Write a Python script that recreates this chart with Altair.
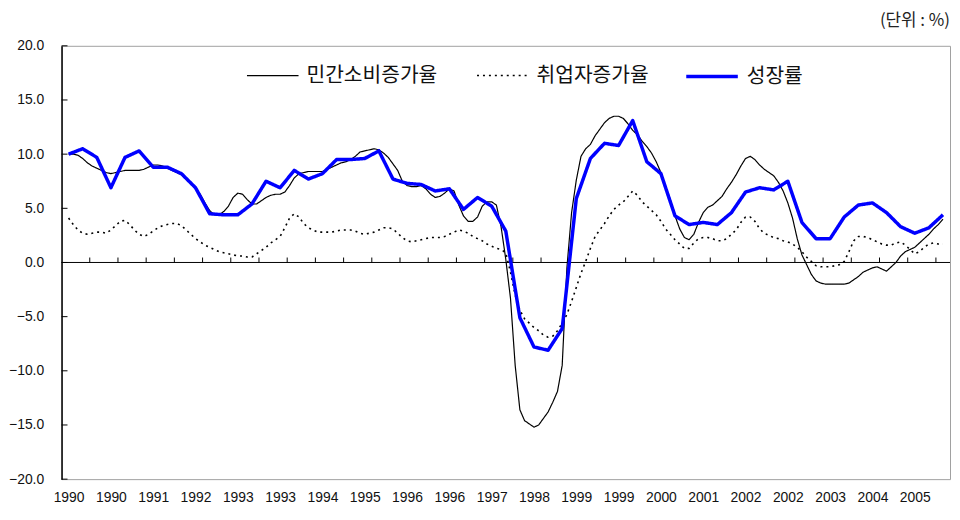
import altair as alt
import pandas as pd

# Series names (legend)
series_names = ["민간소비증가율", "취업자증가율", "성장률"]

# x-axis tick labels (every third quarter, 1990Q1 .. 2005Q1)
x_labels = ["1990", "1990", "1991", "1992", "1993", "1993", "1994", "1995", "1996", "1996",
            "1997", "1998", "1999", "1999", "2000", "2001", "2002", "2002", "2003", "2004", "2005"]
y_ticks = [-20, -15, -10, -5, 0, 5, 10, 15, 20]

# 성장률 : quarterly, 1990Q1 .. 2005Q3
growth = [10.0, 10.5, 9.7, 6.9, 9.7, 10.3, 8.8, 8.8, 8.2, 6.9,
          4.5, 4.4, 4.4, 5.4, 7.5, 6.9, 8.5, 7.7, 8.2, 9.5,
          9.5, 9.6, 10.3, 7.7, 7.3, 7.2, 6.6, 6.8, 4.9, 6.0,
          5.2, 2.9, -5.1, -7.8, -8.1, -6.1, 5.9, 9.6, 11.0, 10.8,
          13.1, 9.3, 8.2, 4.3, 3.5, 3.7, 3.5, 4.6, 6.5, 6.9,
          6.7, 7.5, 3.7, 2.2, 2.2, 4.2, 5.3, 5.5, 4.6, 3.3,
          2.7, 3.2, 4.4]

# 민간소비증가율 : monthly steps (1/3 quarter)
consumption = [10.0, 10.0, 9.9, 9.6, 9.2, 8.9, 8.7, 8.5, 8.3, 8.2,
               8.3, 8.4, 8.5, 8.5, 8.5, 8.5, 8.6, 8.8, 9.0, 9.0,
               8.9, 8.7, 8.5, 8.3, 8.1, 7.7, 7.3, 6.8, 6.3, 5.5,
               4.8, 4.4, 4.4, 4.7, 5.2, 6.0, 6.4, 6.3, 5.8, 5.4,
               5.4, 5.7, 6.0, 6.2, 6.3, 6.3, 6.5, 7.1, 7.8, 8.2,
               8.3, 8.4, 8.4, 8.4, 8.4, 8.6, 8.8, 9.0, 9.2, 9.3,
               9.5, 9.8, 10.2, 10.3, 10.4, 10.5, 10.4, 10.1, 9.7, 9.1,
               8.5, 7.5, 7.1, 7.0, 7.0, 7.1, 6.8, 6.3, 6.0, 6.1,
               6.4, 6.8, 6.6, 5.3, 4.3, 3.8, 3.8, 4.2, 5.2, 5.6,
               5.6, 5.3, 3.3, 0.3, -3.3, -9.5, -13.6, -14.6, -14.9, -15.2,
               -15.0, -14.4, -13.8, -12.9, -11.9, -9.5, -0.5, 4.6, 7.6, 9.8,
               10.5, 10.9, 11.7, 12.3, 12.9, 13.3, 13.5, 13.5, 13.3, 12.8,
               12.2, 11.8, 11.2, 10.7, 10.1, 9.3, 8.3, 7.0, 5.8, 4.3,
               3.1, 2.3, 2.1, 2.6, 3.7, 4.6, 5.1, 5.3, 5.7, 6.1,
               6.8, 7.4, 8.1, 8.9, 9.6, 9.8, 9.5, 9.0, 8.6, 8.3,
               8.0, 7.4, 6.6, 5.5, 4.1, 2.2, 0.7, -0.2, -1.1, -1.7,
               -1.9, -2.0, -2.0, -2.0, -2.0, -2.0, -1.9, -1.6, -1.3, -0.9,
               -0.7, -0.5, -0.4, -0.6, -0.8, -0.4, 0.0, 0.6, 1.0, 1.2,
               1.4, 1.8, 2.2, 2.6, 3.1, 3.5, 4.0]

# 취업자증가율 : monthly steps (1/3 quarter)
employment = [4.1, 3.5, 3.0, 2.7, 2.6, 2.7, 2.8, 2.8, 2.7, 3.0,
              3.4, 3.8, 3.9, 3.5, 3.0, 2.6, 2.4, 2.6, 2.9, 3.2,
              3.4, 3.5, 3.6, 3.6, 3.4, 3.0, 2.6, 2.2, 1.9, 1.6,
              1.4, 1.2, 1.0, 0.9, 0.8, 0.7, 0.6, 0.6, 0.5, 0.5,
              0.8, 1.1, 1.4, 1.8, 2.1, 2.4, 3.2, 4.1, 4.5, 4.2,
              3.6, 3.2, 3.0, 2.8, 2.8, 2.8, 2.8, 2.9, 3.0, 3.0,
              3.0, 2.9, 2.7, 2.6, 2.7, 2.8, 3.0, 3.2, 3.2, 3.1,
              2.7, 2.3, 2.0, 1.9, 2.0, 2.1, 2.2, 2.3, 2.3, 2.3,
              2.4, 2.6, 2.8, 3.0, 2.9, 2.7, 2.4, 2.2, 2.0, 1.7,
              1.5, 1.3, 1.2, 0.9, -0.9, -3.0, -4.4, -5.2, -5.6, -6.0,
              -6.3, -6.7, -6.9, -6.8, -6.3, -5.6, -4.8, -3.6, -2.3, -1.0,
              0.1, 1.3, 2.4, 3.0, 3.6, 4.3, 4.9, 5.3, 5.6, 6.1,
              6.6, 6.2, 5.6, 5.2, 4.8, 4.4, 3.8, 3.1, 2.6, 2.1,
              1.7, 1.3, 1.3, 1.8, 2.2, 2.3, 2.3, 2.2, 2.0, 2.0,
              2.2, 2.6, 3.0, 3.7, 4.2, 4.2, 3.8, 3.1, 2.7, 2.5,
              2.3, 2.2, 2.0, 1.9, 1.7, 1.4, 1.0, 0.5, 0.1, -0.3,
              -0.4, -0.4, -0.4, -0.3, -0.2, 0.1, 1.0, 2.0, 2.4, 2.4,
              2.3, 2.1, 1.9, 1.7, 1.6, 1.6, 1.8, 1.9, 1.6, 1.2,
              0.8, 1.0, 1.4, 1.7, 1.8, 1.7, 1.7]

df_cons = pd.DataFrame({"series": series_names[0],
                        "x": [i / 3 for i in range(len(consumption))], "value": consumption})
df_emp = pd.DataFrame({"series": series_names[1],
                       "x": [i / 3 for i in range(len(employment))], "value": employment})
df_gr = pd.DataFrame({"series": series_names[2],
                      "x": [float(i) for i in range(len(growth))], "value": growth})

n_q = len(growth)
label_values = list(range(0, 3 * len(x_labels), 3))
label_expr = "[" + ",".join("'" + s + "'" for s in x_labels) + "][round(datum.value/3)]"
xtick_df = pd.DataFrame({"x": [i + 0.5 for i in range(1, n_q - 1, 2)]})
ytick_df = pd.DataFrame({"y": y_ticks})

W, H = 896, 437
num_font = "Liberation Sans"
kr_font = "Noto Sans CJK KR"

x_scale = alt.Scale(domain=[-0.5, n_q - 0.5], nice=False, zero=False)
y_scale = alt.Scale(domain=[-20, 20], nice=False)

x_axis = alt.Axis(values=label_values, labelExpr=label_expr, title=None, grid=False,
                  domain=False, ticks=False, labelPadding=12, labelFontSize=14,
                  labelFont=num_font, labelColor="#111", labelFlush=False)
y_axis = alt.Axis(values=y_ticks, format=".1f", title=None, grid=False, ticks=False,
                  domainColor="#000", domainWidth=1.5, labelPadding=18, labelFontSize=14,
                  labelFont=num_font, labelColor="#111")


def series_line(data, name, color, width, dash, legend_x):
    legend = alt.Legend(title=None, orient="none", legendX=legend_x, legendY=3,
                        direction="horizontal", symbolType="stroke", symbolSize=2704,
                        symbolStrokeWidth=width, symbolDash=dash, symbolStrokeColor=color,
                        labelFontSize=20.5, labelFont=kr_font, labelColor="#111", labelOffset=7)
    return alt.Chart(data).mark_line(strokeWidth=width, strokeDash=dash, strokeCap="butt",
                                     strokeJoin="round").encode(
        x=alt.X("x:Q", scale=x_scale, axis=x_axis),
        y=alt.Y("value:Q", scale=y_scale, axis=y_axis),
        color=alt.Color("series:N", scale=alt.Scale(domain=[name], range=[color]), legend=legend),
    )


l_cons = series_line(df_cons, series_names[0], "#000000", 1.2, [1, 0], 186)
l_emp = series_line(df_emp, series_names[1], "#000000", 1.6, [2, 4], 418)
l_gr = series_line(df_gr, series_names[2], "#0000ff", 3.5, [1, 0], 628)

zero_line = alt.Chart(pd.DataFrame({"y": [0]})).mark_rule(color="#000", strokeWidth=1).encode(
    y=alt.Y("y:Q", scale=y_scale)
)

xticks = alt.Chart(xtick_df).mark_rule(color="#000", strokeWidth=1).encode(
    x=alt.X("x:Q", scale=x_scale),
    y=alt.datum(0),
    y2=alt.value(H / 2 - 5),
)

yticks = alt.Chart(ytick_df).mark_rule(color="#000", strokeWidth=1).encode(
    y=alt.Y("y:Q", scale=y_scale),
    x=alt.value(0),
    x2=alt.value(6),
)

chart = alt.layer(zero_line, xticks, yticks, l_emp, l_cons, l_gr).resolve_scale(
    color="independent"
).resolve_legend(color="independent").properties(
    width=W, height=H,
    autosize=alt.AutoSizeParams(type="none"),
    padding={"left": 54, "top": 36, "right": 2, "bottom": 31},
    title=alt.TitleParams("(단위 : %)", anchor="end", frame="group", fontSize=17, font=kr_font,
                          fontWeight="normal", color="#222", offset=9, dx=0),
).configure_view(stroke="#a0a0a0", strokeWidth=1).configure_axis(labelFont=num_font)

chart.save("out.html", embed_options={"renderer": "svg", "actions": False})
